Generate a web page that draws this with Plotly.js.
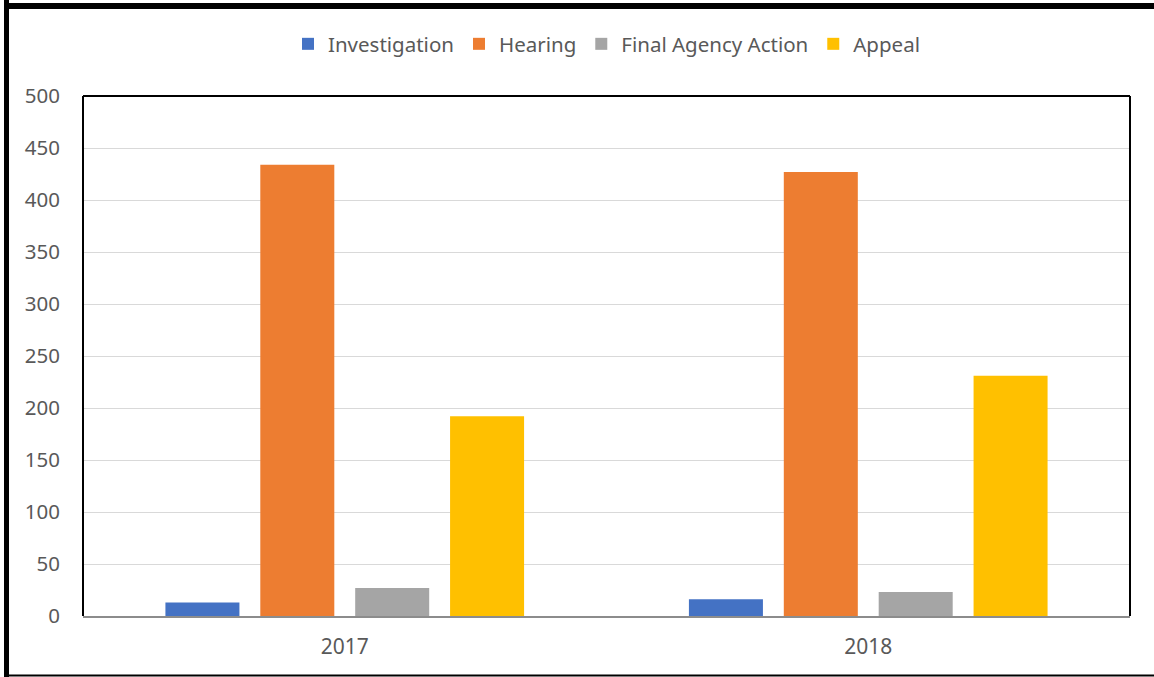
<!DOCTYPE html>
<html>
<head>
<meta charset="utf-8">
<script src="https://cdn.plot.ly/plotly-3.0.1.min.js"></script>
<style>
html,body{margin:0;padding:0;background:#fff;}
#chart{width:1154px;height:677px;}
</style>
</head>
<body>
<div id="chart"></div>
<script>
const years = ["2017", "2018"];
const investigation = [13, 16];
const hearing = [434, 427];
const finalAgencyAction = [27, 23];
const appeal = [192, 231];
const seriesNames = ["Investigation", "Hearing", "Final Agency Action", "Appeal"];
const seriesColors = ["#4472C4", "#ED7D31", "#A5A5A5", "#FFC000"];
const seriesValues = [investigation, hearing, finalAgencyAction, appeal];

const W = 1154, H = 677;
const L = 83, R = 1130, T = 96, B = 616;
const px = x => (x - L) / (R - L);
const py = y => (B - y) / (B - T);

const traces = seriesNames.map((n, i) => ({
  type: "bar",
  name: n,
  x: years,
  y: seriesValues[i],
  marker: {color: seriesColors[i], line: {width: 0}},
  hoverinfo: "x+y+name"
}));

const font = "Noto Sans, Open Sans, sans-serif";
const layout = {
  width: W, height: H,
  margin: {l: L, r: W - R, t: T, b: H - B, pad: 0},
  paper_bgcolor: "#ffffff",
  plot_bgcolor: "#ffffff",
  barmode: "group",
  bargap: 0.275,
  bargroupgap: 0.22,
  showlegend: true,
  legend: {
    orientation: "h",
    x: 0.5, xanchor: "center",
    y: py(44), yanchor: "middle",
    font: {family: font, size: 20.5, color: "#595959"},
    itemwidth: 30,
    traceorder: "normal"
  },
  font: {family: font, color: "#595959"},
  xaxis: {
    type: "category",
    showgrid: false,
    zeroline: false,
    showline: true,
    linecolor: "#8c8c8c",
    linewidth: 2,
    ticks: "",
    tickfont: {family: font, size: 21, color: "#595959"},
    ticklabelstandoff: 11
  },
  yaxis: {
    range: [0, 500],
    dtick: 50,
    tick0: 0,
    showgrid: true,
    gridcolor: "#d9d9d9",
    gridwidth: 1,
    zeroline: false,
    showline: false,
    ticks: "",
    tickfont: {family: font, size: 20.5, color: "#595959"},
    ticklabelstandoff: 22
  },
  shapes: [
    {type: "line", xref: "paper", yref: "paper", x0: 0, x1: 0, y0: 0, y1: 1, line: {color: "#000", width: 2}},
    {type: "line", xref: "paper", yref: "paper", x0: 0, x1: 1, y0: 1, y1: 1, line: {color: "#000", width: 2}},
    {type: "line", xref: "paper", yref: "paper", x0: 1, x1: 1, y0: 0, y1: 1, line: {color: "#000", width: 2}},
    {type: "line", xref: "paper", yref: "paper", x0: px(6.5), x1: px(6.5), y0: py(0), y1: py(677), line: {color: "#000", width: 5}},
    {type: "line", xref: "paper", yref: "paper", x0: px(4), x1: px(1154), y0: py(6), y1: py(6), line: {color: "#000", width: 6}},
    {type: "line", xref: "paper", yref: "paper", x0: px(4), x1: px(1154), y0: py(675.5), y1: py(675.5), line: {color: "#000", width: 2}}
  ]
};

Plotly.newPlot("chart", traces, layout, {displayModeBar: false, staticPlot: true});
</script>
</body>
</html>
